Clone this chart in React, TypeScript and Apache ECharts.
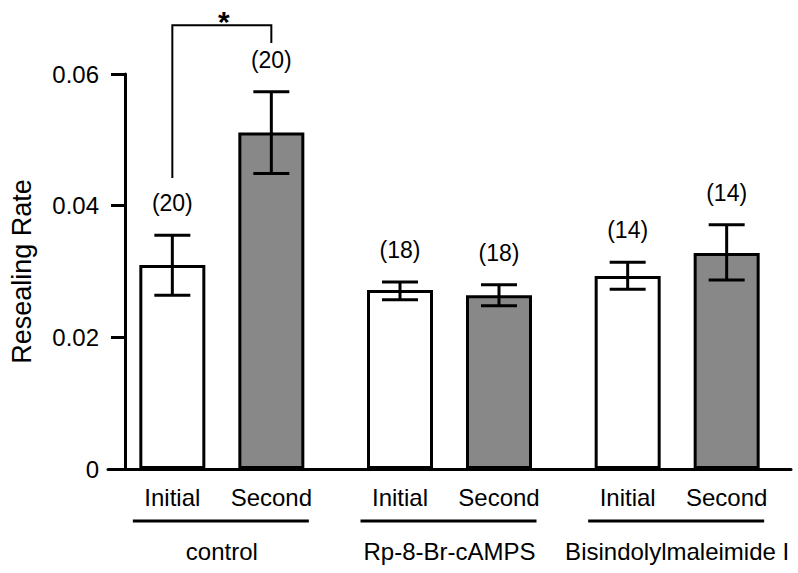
import React, { useEffect, useRef } from "react";
import * as echarts from "echarts";

const groups = ["control", "Rp-8-Br-cAMPS", "Bisindolylmaleimide I"];
const subLabels = ["Initial", "Second"];
const initialMean = [0.031, 0.0272, 0.0293];
const initialLow = [0.0264, 0.0257, 0.0273];
const initialHigh = [0.0355, 0.0284, 0.0314];
const secondMean = [0.0511, 0.0264, 0.0328];
const secondLow = [0.0449, 0.0248, 0.0287];
const secondHigh = [0.0573, 0.028, 0.0371];
const initialN = ["(20)", "(18)", "(14)"];
const secondN = ["(20)", "(18)", "(14)"];
// significance bracket: group index, left leg bottom, right leg bottom, top
const sigBracket = [[0, 0.0442, 0.0647, 0.0674]];
const sigMark = "*";
const yTicks = [0, 0.02, 0.04, 0.06];

const FONT = "'Liberation Sans', Arial, Helvetica, sans-serif";
const BAR_W = 66;
const BAR_GAP = 33;
const OFF = (BAR_W + BAR_GAP) / 2;

function errorRender(offset: number, labels: string[]) {
  return (params: any, api: any) => {
    const i = api.value(0);
    const lo = api.coord([i, api.value(1)]);
    const hi = api.coord([i, api.value(2)]);
    const x = lo[0] + offset;
    const ls = { stroke: "#000", lineWidth: 3 };
    return {
      type: "group",
      children: [
        { type: "line", shape: { x1: x, y1: lo[1], x2: x, y2: hi[1] }, style: ls },
        { type: "line", shape: { x1: x - 18, y1: hi[1], x2: x + 18, y2: hi[1] }, style: ls },
        { type: "line", shape: { x1: x - 18, y1: lo[1], x2: x + 18, y2: lo[1] }, style: ls },
        {
          type: "text",
          style: {
            text: labels[params.dataIndex],
            x,
            y: hi[1] - 32,
            align: "center",
            verticalAlign: "middle",
            fontSize: 23,
            fontFamily: FONT,
            fill: "#000",
          },
        },
      ],
    };
  };
}

export default function App() {
  const ref = useRef<HTMLDivElement>(null);
  useEffect(() => {
    if (!ref.current) return;
    const chart = echarts.init(ref.current, null, { renderer: "svg" });
    const option: any = {
      animation: false,
      backgroundColor: "#fff",
      grid: { left: 99, right: 7, top: 74, bottom: 104 },
      xAxis: {
        type: "category",
        data: groups,
        axisLine: { lineStyle: { color: "#000", width: 3 } },
        axisTick: { show: false },
        axisLabel: { interval: 0, margin: 70, fontSize: 24, color: "#000", fontFamily: FONT },
      },
      yAxis: {
        type: "value",
        min: 0,
        max: 0.06,
        interval: 0.02,
        offset: -17,
        name: "Resealing Rate",
        nameLocation: "middle",
        nameRotate: 90,
        nameGap: 90,
        nameTextStyle: { fontSize: 27, color: "#000", fontFamily: FONT },
        axisLine: { show: true, lineStyle: { color: "#000", width: 3 } },
        axisTick: { show: true, length: 14, lineStyle: { color: "#000", width: 3 } },
        splitLine: { show: false },
        axisLabel: {
          margin: 26,
          fontSize: 24,
          color: "#000",
          fontFamily: FONT,
          formatter: (v: number) => (yTicks.indexOf(v) === 0 ? "0" : v.toFixed(2)),
        },
      },
      series: [
        {
          type: "bar",
          name: subLabels[0],
          data: initialMean,
          barWidth: BAR_W,
          barGap: "50%",
          itemStyle: { color: "#fff", borderColor: "#000", borderWidth: 3 },
          label: {
            show: true,
            position: "bottom",
            distance: 16,
            formatter: subLabels[0],
            fontSize: 24,
            color: "#000",
            fontFamily: FONT,
          },
        },
        {
          type: "bar",
          name: subLabels[1],
          data: secondMean,
          barWidth: BAR_W,
          barGap: "50%",
          itemStyle: { color: "#888888", borderColor: "#000", borderWidth: 3 },
          label: {
            show: true,
            position: "bottom",
            distance: 16,
            formatter: subLabels[1],
            fontSize: 24,
            color: "#000",
            fontFamily: FONT,
          },
        },
        {
          type: "custom",
          clip: false,
          z: 5,
          data: groups.map((_, i) => [i, initialLow[i], initialHigh[i]]),
          encode: { x: 0, y: [1, 2] },
          renderItem: errorRender(-OFF, initialN),
        },
        {
          type: "custom",
          clip: false,
          z: 5,
          data: groups.map((_, i) => [i, secondLow[i], secondHigh[i]]),
          encode: { x: 0, y: [1, 2] },
          renderItem: errorRender(OFF, secondN),
        },
        {
          // group underlines
          type: "custom",
          clip: false,
          data: groups.map((_, i) => [i, 0]),
          encode: { x: 0, y: 1 },
          renderItem: (params: any, api: any) => {
            const p = api.coord([api.value(0), 0]);
            return {
              type: "line",
              shape: { x1: p[0] - 89, y1: p[1] + 52, x2: p[0] + 87, y2: p[1] + 52 },
              style: { stroke: "#000", lineWidth: 3 },
            };
          },
        },
        {
          // significance bracket
          type: "custom",
          clip: false,
          data: sigBracket,
          encode: { x: 0, y: [1, 2, 3] },
          renderItem: (params: any, api: any) => {
            const i = api.value(0);
            const a = api.coord([i, api.value(1)]);
            const b = api.coord([i, api.value(2)]);
            const t = api.coord([i, api.value(3)]);
            const xl = a[0] - OFF;
            const xr = a[0] + OFF;
            return {
              type: "group",
              children: [
                {
                  type: "polyline",
                  shape: { points: [[xl, a[1]], [xl, t[1]], [xr, t[1]], [xr, b[1]]] },
                  style: { stroke: "#000", lineWidth: 2, fill: "none" },
                },
                {
                  type: "text",
                  style: {
                    text: sigMark,
                    x: (xl + xr) / 2 + 2,
                    y: t[1] - 4,
                    align: "center",
                    verticalAlign: "middle",
                    fontSize: 30,
                    fontWeight: "bold",
                    fontFamily: FONT,
                    fill: "#000",
                  },
                },
              ],
            };
          },
        },
      ],
    };
    chart.setOption(option);
    return () => chart.dispose();
  }, []);
  return (
    <div
      ref={ref}
      style={{ position: "fixed", left: 0, top: 0, width: 798, height: 573, background: "#fff" }}
    />
  );
}
